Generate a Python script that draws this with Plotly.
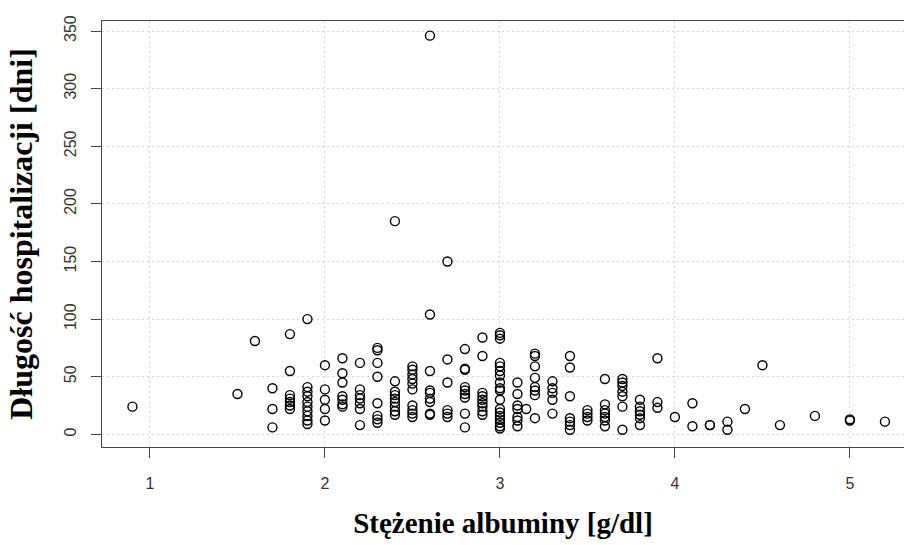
import plotly.graph_objects as go

# Albumin concentration [g/dl]
albumina = (
    [0.9, 1.5, 1.6]
    + [1.7] * 3
    + [1.8] * 7
    + [1.9] * 10
    + [2.0] * 5
    + [2.1] * 7
    + [2.2] * 7
    + [2.3] * 8
    + [2.4] * 9
    + [2.5] * 10
    + [2.6] * 9
    + [2.7] * 6
    + [2.8] * 9
    + [2.9] * 9
    + [3.0] * 18
    + [3.1] * 7
    + [3.15]
    + [3.2] * 8
    + [3.3] * 5
    + [3.4] * 7
    + [3.5] * 4
    + [3.6] * 7
    + [3.7] * 7
    + [3.8] * 6
    + [3.9] * 3
    + [4.0]
    + [4.1] * 2
    + [4.2] * 2
    + [4.3] * 2
    + [4.4, 4.5, 4.6, 4.8]
    + [5.0] * 2
    + [5.2]
)

# Length of hospitalisation [days]
dni = [
    24, 35, 81,
    40, 22, 6,
    87, 55, 34, 31, 28, 25, 22,
    100, 41, 37, 33, 28, 24, 20, 16, 12, 9,
    60, 39, 30, 22, 12,
    66, 53, 45, 33, 30, 26, 24,
    62, 39, 34, 31, 27, 22, 8,
    75, 73, 62, 50, 27, 16, 13, 10,
    185, 46, 37, 34, 31, 28, 24, 20, 17,
    59, 56, 52, 48, 44, 39, 25, 21, 18, 15,
    346, 104, 55, 38, 36, 31, 28, 18, 17,
    150, 65, 45, 21, 18, 15,
    74, 57, 56, 41, 38, 35, 32, 18, 6,
    84, 68, 36, 33, 30, 27, 24, 20, 17,
    88, 86, 83, 62, 59, 55, 51, 45, 40, 38, 30, 22, 19, 16, 13, 10, 7, 5,
    45, 35, 25, 22, 15, 12, 7,
    22,
    70, 68, 59, 49, 41, 38, 34, 14,
    46, 40, 36, 30, 18,
    68, 58, 33, 14, 11, 8, 4,
    21, 18, 15, 12,
    48, 26, 21, 18, 15, 12, 7,
    48, 45, 42, 37, 33, 24, 4,
    30, 24, 20, 17, 14, 8,
    66, 28, 23,
    15,
    27, 7,
    8, 8,
    11, 4,
    22, 60, 8, 16,
    13, 12,
    11,
]

x_ticks = [1, 2, 3, 4, 5]
y_ticks = [0, 50, 100, 150, 200, 250, 300, 350]

fig = go.Figure(
    go.Scatter(
        x=albumina,
        y=dni,
        mode="markers",
        marker=dict(symbol="circle-open", size=9, color="black", line=dict(width=1.4, color="black")),
        showlegend=False,
    )
)

axis_line = "#444444"
grid_col = "#d6d6d6"
tick_font = dict(family="Liberation Sans, Arial, sans-serif", size=16, color="#333333")

fig.update_layout(
    width=904,
    height=545,
    margin=dict(l=102, r=0, t=21, b=98),
    paper_bgcolor="white",
    plot_bgcolor="white",
    xaxis=dict(
        range=[0.726, 5.309],
        tickvals=x_ticks,
        ticktext=[str(v) for v in x_ticks],
        ticks="outside",
        ticklen=10,
        tickwidth=1.2,
        tickcolor=axis_line,
        tickfont=tick_font,
        ticklabelstandoff=12,
        showline=True,
        linecolor=axis_line,
        linewidth=1.3,
        mirror=True,
        showgrid=True,
        gridcolor=grid_col,
        griddash="2px,3px",
        gridwidth=1,
        zeroline=False,
        title=dict(
            text="<b>Stężenie albuminy [g/dl]</b>",
            font=dict(family="Liberation Serif, Times New Roman, serif", size=29, color="black"),
            standoff=21,
        ),
    ),
    yaxis=dict(
        range=[-11, 358.7],
        tickvals=y_ticks,
        ticktext=[str(v) for v in y_ticks],
        tickangle=-90,
        ticks="outside",
        ticklen=10,
        tickwidth=1.2,
        tickcolor=axis_line,
        tickfont=tick_font,
        ticklabelstandoff=8,
        showline=True,
        linecolor=axis_line,
        linewidth=1.3,
        mirror=False,
        showgrid=True,
        gridcolor=grid_col,
        griddash="2px,3px",
        gridwidth=1,
        zeroline=False,
        title=dict(
            text="<b>Długość hospitalizacji [dni]</b>",
            font=dict(family="Liberation Serif, Times New Roman, serif", size=32, color="black"),
            standoff=20,
        ),
    ),
)

fig.write_html("out.html")
